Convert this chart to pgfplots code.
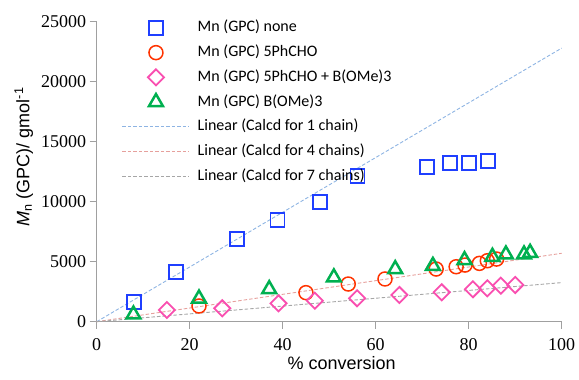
\documentclass[border=0pt]{standalone}
\usepackage{fontspec}
\setmainfont{Liberation Serif}
\newfontfamily\labelfont{Liberation Sans}
\newfontfamily\legendfont{Carlito}
\usepackage{pgfplots}
\pgfplotsset{compat=1.18}
\definecolor{cblue}{HTML}{1F3FFF}
\definecolor{cred}{HTML}{FF3300}
\definecolor{cpink}{HTML}{F94FB0}
\definecolor{cgreen}{HTML}{00B050}
\definecolor{lblue}{HTML}{8EB4E3}
\definecolor{lred}{HTML}{E6A09C}
\definecolor{lgray}{HTML}{A6A6A6}
\definecolor{axgray}{HTML}{A0A0A0}
\begin{document}
\begin{tikzpicture}
\path[use as bounding box] (-96.7pt,-58.3pt) rectangle (482.3pt,321.7pt);
\begin{axis}[
  scale only axis, width=465pt, height=300pt,
  xmin=0, xmax=100, ymin=0, ymax=25000,
  xtick={0,20,...,100}, ytick={0,5000,...,25000},
  scaled y ticks=false,
  /pgf/number format/1000 sep={},
  /pgf/number format/assume math mode=true,
  axis x line*=bottom, axis y line*=left,
  axis line style={axgray, line width=1.5pt, -},
  tick style={axgray, line width=1.5pt},
  tick align=outside, major tick length=7pt,
  xticklabel style={font=\fontsize{18}{20}\selectfont, yshift=-6pt},
  yticklabel style={font=\fontsize{18}{20}\selectfont},
  xlabel={\labelfont\% conversion},
  xlabel style={font=\fontsize{18}{20}\selectfont, at={(axis description cs:0.527,-0.138)}, anchor=center},
  ylabel={\labelfont{\itshape M}\textsubscript{n} (GPC)/ gmol\textsuperscript{-1}},
  ylabel style={font=\fontsize{18}{20}\selectfont, at={(axis description cs:-0.157,0.549)}, anchor=center, rotate=0},
  legend cell align=left,
  legend image code/.code={\draw[mark repeat=2,mark phase=2,#1] plot coordinates {(0pt,0pt) (33.5pt,0pt) (67pt,0pt)}; \path (72pt,0pt);},
  legend style={draw=none, fill=none, at={(axis description cs:0.054,1.021)}, anchor=north west,
    font=\legendfont\fontsize{16}{18}\selectfont, inner sep=0pt,
    nodes={text height=11.5pt, text depth=3.5pt, inner ysep=4.85pt}},
  clip=false,
]
\addplot[only marks, mark=square, mark size=7pt, cblue, line width=1.8pt] coordinates {
 (8.1,1617) (17.0,4117) (30.1,6892) (38.9,8475) (48.0,9950)
 (56.1,12170) (71.0,12920) (76.0,13200) (80.1,13200) (84.1,13390)};
\addlegendentry{Mn (GPC) none}
\addplot[only marks, mark=o, mark size=7pt, cred, line width=1.5pt] coordinates {
 (22.0,1308) (45.0,2420) (54.1,3140) (62.0,3560) (73.0,4390)
 (77.3,4580) (79.2,4720) (82.3,4860) (84.0,5080) (86.0,5220)};
\addlegendentry{Mn (GPC) 5PhCHO}
\addplot[only marks, mark=square, mark options={rotate=45}, mark size=5.7pt, cpink, line width=1.8pt] coordinates {
 (15.1,975) (27.0,1114) (39.1,1530) (46.9,1750) (56.0,1950)
 (65.1,2225) (74.2,2450) (80.9,2700) (84.0,2780) (86.9,3000) (90.0,3060)};
\addlegendentry{Mn (GPC) 5PhCHO + B(OMe)3}
\addplot[only marks, mark=triangle, mark size=8pt, cgreen, line width=2.5pt] coordinates {
 (7.9,600) (22.0,1930) (37.1,2710) (51.0,3690) (64.2,4380)
 (72.3,4650) (79.1,5130) (85.1,5410) (88.0,5600) (91.9,5600) (93.2,5740)};
\addlegendentry{Mn (GPC) B(OMe)3}
\addplot[lblue, line width=0.9pt, dash pattern=on 3.5pt off 2pt] coordinates {(0,0) (100,22800)};
\addlegendentry{Linear (Calcd for 1 chain)}
\addplot[lred, line width=0.9pt, dash pattern=on 3.5pt off 2pt] coordinates {(0,0) (100,5700)};
\addlegendentry{Linear (Calcd for 4 chains)}
\addplot[lgray, line width=0.9pt, dash pattern=on 3.5pt off 2pt] coordinates {(0,0) (100,3257)};
\addlegendentry{Linear (Calcd for 7 chains)}
\end{axis}
\end{tikzpicture}
\end{document}
